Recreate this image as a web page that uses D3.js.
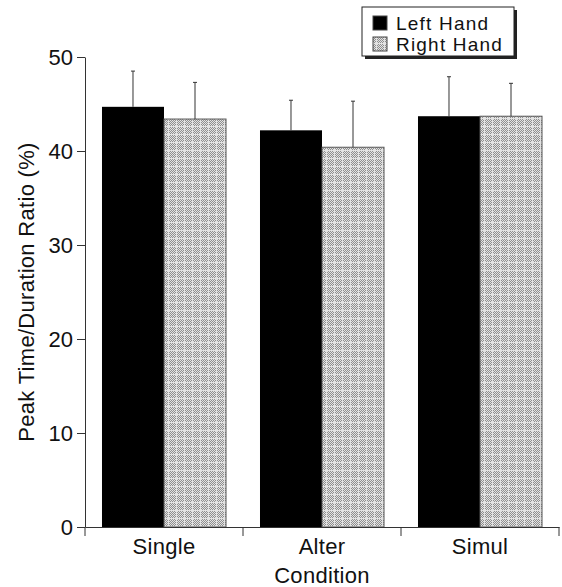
<!DOCTYPE html>
<html>
<head>
<meta charset="utf-8">
<script src="https://cdn.jsdelivr.net/npm/d3@7"></script>
<style>
  body { margin: 0; background: #fff; }
  #chart { width: 562px; height: 587px; }
  text { font-family: "Liberation Sans", Arial, sans-serif; fill: #111; }
</style>
</head>
<body>
<div id="chart"></div>
<script>
// Data
const conditions = ["Single", "Alter", "Simul"];
const hands = ["Left Hand", "Right Hand"];
const leftMeans = [44.7, 42.2, 43.7];
const rightMeans = [43.4, 40.4, 43.7];
const leftErr = [3.8, 3.2, 4.2];
const rightErr = [3.9, 4.9, 3.5];
const yTicks = [0, 10, 20, 30, 40, 50];

setupGraph();

function setupGraph() {
    const W = 562, H = 587;
    const margin = {top: 57, right: 3, bottom: 60, left: 85};

    const svg = d3.select("#chart").append("svg")
        .attr("width", W)
        .attr("height", H);

    // Stippled fill for the right hand bars
    const defs = svg.append("defs");
    const pat = defs.append("pattern")
        .attr("id", "stipple")
        .attr("patternUnits", "userSpaceOnUse")
        .attr("width", 8).attr("height", 8);
    pat.append("rect").attr("width", 8).attr("height", 8).attr("fill", "#e2e2e2");
    for (let i = 0; i < 8; i++) {
        for (let j = 0; j < 8; j++) {
            if ((i + j) % 2 === 0 && i !== 3 && j !== 6) {
                pat.append("rect").attr("x", i).attr("y", j)
                    .attr("width", 1).attr("height", 1).attr("fill", "#8f8f8f");
            }
        }
    }

    const data = conditions.map((c, i) => ({
        condition: c,
        values: [
            {hand: hands[0], mean: leftMeans[i], err: leftErr[i]},
            {hand: hands[1], mean: rightMeans[i], err: rightErr[i]}
        ]
    }));

    // Scales
    const x0 = d3.scaleBand()
        .domain(conditions)
        .range([margin.left, W - margin.right])
        .paddingInner(0)
        .paddingOuter(0);

    const x1 = d3.scaleBand()
        .domain(hands)
        .range([0, x0.bandwidth()])
        .paddingInner(0)
        .paddingOuter(0.274);

    const y = d3.scaleLinear()
        .domain([0, 50])
        .range([H - margin.bottom, margin.top]);

    const fill = d3.scaleOrdinal()
        .domain(hands)
        .range(["#000", "url(#stipple)"]);

    // Bars
    const groups = svg.append("g").selectAll("g")
        .data(data)
        .join("g")
        .attr("transform", d => `translate(${x0(d.condition)},0)`);

    groups.selectAll("rect")
        .data(d => d.values)
        .join("rect")
        .attr("x", d => x1(d.hand))
        .attr("y", d => y(d.mean))
        .attr("width", x1.bandwidth())
        .attr("height", d => y(0) - y(d.mean))
        .attr("fill", d => fill(d.hand))
        .attr("stroke", d => d.hand === hands[1] ? "#555" : "none")
        .attr("stroke-width", 1);

    // Upper error bars
    const eb = groups.selectAll("g.err")
        .data(d => d.values)
        .join("g")
        .attr("class", "err");
    eb.append("line")
        .attr("x1", d => x1(d.hand) + x1.bandwidth() / 2)
        .attr("x2", d => x1(d.hand) + x1.bandwidth() / 2)
        .attr("y1", d => y(d.mean))
        .attr("y2", d => y(d.mean + d.err))
        .attr("stroke", "#333").attr("stroke-width", 1);
    eb.append("line")
        .attr("x1", d => x1(d.hand) + x1.bandwidth() / 2 - 2)
        .attr("x2", d => x1(d.hand) + x1.bandwidth() / 2 + 2)
        .attr("y1", d => y(d.mean + d.err))
        .attr("y2", d => y(d.mean + d.err))
        .attr("stroke", "#333").attr("stroke-width", 1);

    // Y axis
    const yAxis = svg.append("g")
        .attr("transform", `translate(${margin.left},0)`)
        .call(d3.axisLeft(y).tickValues(yTicks).tickSize(8).tickPadding(4).tickSizeOuter(0));
    yAxis.select(".domain").attr("stroke", "#333");
    yAxis.selectAll(".tick line").attr("stroke", "#333");
    yAxis.selectAll(".tick text")
        .attr("font-size", 22)
        .attr("font-family", "Liberation Sans, Arial, sans-serif")
        .attr("fill", "#111");

    // X axis with ticks at band boundaries
    const xAxis = svg.append("g")
        .attr("transform", `translate(0,${y(0)})`)
        .call(d3.axisBottom(x0).tickSize(0).tickPadding(11).tickSizeOuter(0));
    xAxis.select(".domain").attr("stroke", "#333");
    xAxis.selectAll(".tick text")
        .attr("font-size", 22)
        .attr("letter-spacing", 0.3)
        .attr("font-family", "Liberation Sans, Arial, sans-serif")
        .attr("fill", "#111");
    const edges = [x0(conditions[0])].concat(conditions.map(c => x0(c) + x0.bandwidth()));
    xAxis.selectAll("line.edge")
        .data(edges)
        .join("line")
        .attr("class", "edge")
        .attr("x1", d => d).attr("x2", d => d)
        .attr("y1", 0).attr("y2", 9)
        .attr("stroke", "#333");

    // Axis titles
    svg.append("text")
        .attr("x", (x0.range()[0] + x0.range()[1]) / 2)
        .attr("y", 583)
        .attr("text-anchor", "middle")
        .attr("font-size", 22)
        .attr("letter-spacing", 0.3)
        .text("Condition");

    svg.append("text")
        .attr("transform", `translate(34,${(y(0) + y(50)) / 2}) rotate(-90)`)
        .attr("text-anchor", "middle")
        .attr("font-size", 22)
        .attr("letter-spacing", 0.3)
        .text("Peak Time/Duration Ratio (%)");

    // Legend with drop shadow
    const lg = svg.append("g").attr("transform", "translate(362,7)");
    lg.append("rect").attr("x", 3).attr("y", 3).attr("width", 152).attr("height", 49).attr("fill", "#222");
    lg.append("rect").attr("width", 152).attr("height", 49).attr("fill", "#fff").attr("stroke", "#222");
    const items = lg.selectAll("g.item")
        .data(hands)
        .join("g")
        .attr("class", "item")
        .attr("transform", (d, i) => `translate(11,${9 + i * 21})`);
    items.append("rect")
        .attr("width", 14).attr("height", 14)
        .attr("fill", d => fill(d))
        .attr("stroke", "#444");
    items.append("text")
        .attr("x", 23).attr("y", 14)
        .attr("font-size", 19)
        .attr("letter-spacing", 1.2)
        .text(d => d);
}
</script>
</body>
</html>
